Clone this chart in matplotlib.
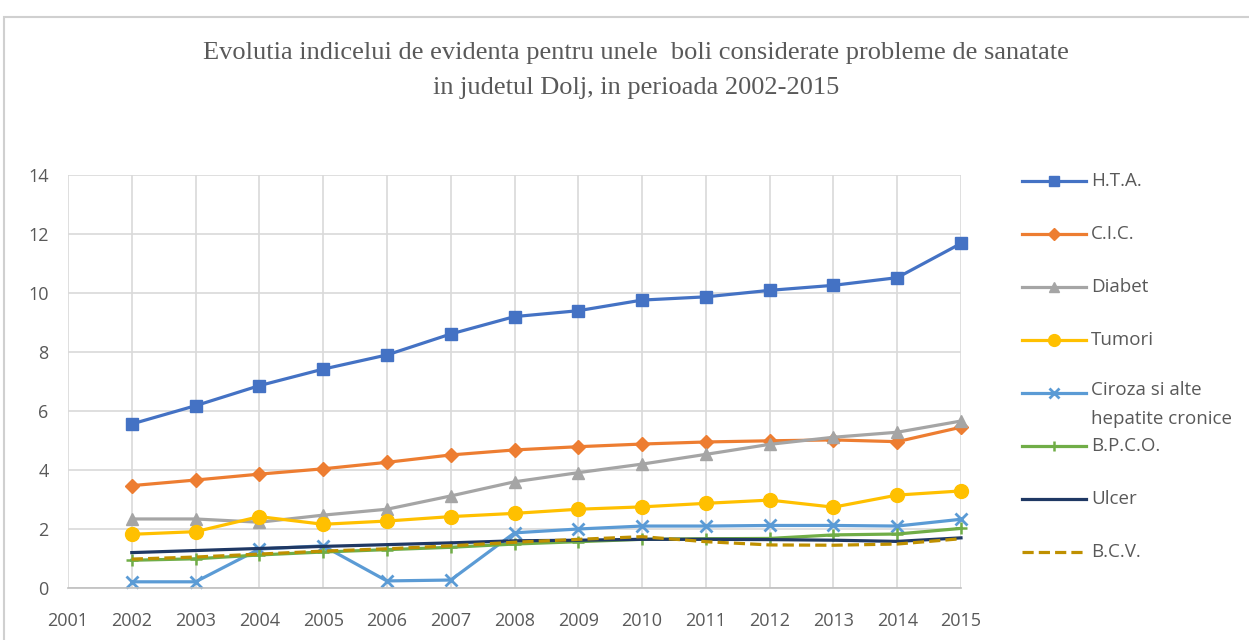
import matplotlib
matplotlib.use("Agg")
import matplotlib.pyplot as plt
from matplotlib.lines import Line2D
from matplotlib.patches import Rectangle

years = list(range(2002, 2016))
hta = [5.56, 6.18, 6.86, 7.42, 7.90, 8.61, 9.20, 9.40, 9.76, 9.87, 10.09, 10.26, 10.52, 11.68]
cic = [3.47, 3.66, 3.86, 4.04, 4.26, 4.51, 4.68, 4.79, 4.88, 4.95, 4.99, 5.02, 4.96, 5.45]
diabet = [2.34, 2.34, 2.23, 2.47, 2.67, 3.12, 3.60, 3.91, 4.20, 4.53, 4.87, 5.11, 5.28, 5.66]
tumori = [1.82, 1.91, 2.42, 2.16, 2.27, 2.42, 2.53, 2.67, 2.75, 2.87, 2.98, 2.74, 3.15, 3.29]
ciroza = [0.21, 0.21, 1.32, 1.43, 0.24, 0.27, 1.87, 2.00, 2.10, 2.10, 2.12, 2.12, 2.10, 2.33]
bpco = [0.94, 0.99, 1.12, 1.22, 1.30, 1.38, 1.49, 1.57, 1.65, 1.67, 1.68, 1.80, 1.83, 2.02]
ulcer = [1.20, 1.27, 1.34, 1.41, 1.47, 1.53, 1.60, 1.62, 1.65, 1.65, 1.64, 1.62, 1.58, 1.70]
bcv = [0.98, 1.05, 1.15, 1.25, 1.33, 1.43, 1.55, 1.65, 1.74, 1.57, 1.46, 1.45, 1.49, 1.67]

labels = ["H.T.A.", "C.I.C.", "Diabet", "Tumori", "Ciroza si alte\nhepatite cronice",
          "B.P.C.O.", "Ulcer", "B.C.V."]
series = [hta, cic, diabet, tumori, ciroza, bpco, ulcer, bcv]
x_ticks = list(range(2001, 2016))
y_ticks = list(range(0, 15, 2))

styles = [
    dict(color="#4472C4", marker="s", ms=9, ls="-"),
    dict(color="#ED7D31", marker="D", ms=7, ls="-"),
    dict(color="#A5A5A5", marker="^", ms=9, ls="-"),
    dict(color="#FFC000", marker="o", ms=10, ls="-"),
    dict(color="#5B9BD5", marker="x", ms=9, ls="-", mew=2),
    dict(color="#70AD47", marker="+", ms=9, ls="-", mew=1.8),
    dict(color="#1F3864", marker=None, ms=0, ls="-"),
    dict(color="#BF9000", marker=None, ms=0, ls=(0, (3.5, 1.6))),
]

W, H = 1249, 640
fig = plt.figure(figsize=(W / 100, H / 100), dpi=100)
fig.patch.set_facecolor("white")
fig.add_artist(Rectangle((4 / W, -0.1), 1.2, (H - 17) / H + 0.1, transform=fig.transFigure,
                         facecolor="white", edgecolor="#d0d0d0", lw=1.5, zorder=-10))

ax = fig.add_axes([68 / W, 1 - 588 / H, (961 - 68) / W, (588 - 175) / H])
ax.set_facecolor("none")
for s, st in zip(series, styles):
    kw = dict(color=st["color"], lw=2.3, linestyle=st["ls"])
    if st["marker"]:
        kw.update(marker=st["marker"], markersize=st["ms"], markeredgewidth=st.get("mew", 1),
                  markerfacecolor=st["color"], markeredgecolor=st["color"])
    ax.plot(years, s, clip_on=False, **kw)

ax.set_xlim(2001, 2015)
ax.set_ylim(0, 14)
ax.set_xticks(x_ticks)
ax.set_yticks(y_ticks)
ax.grid(True, color="#d9d9d9", lw=1.2)
ax.set_axisbelow(True)
for sp in ["top", "right", "left"]:
    ax.spines[sp].set_visible(False)
ax.spines["bottom"].set_color("#bfbfbf")
ax.spines["bottom"].set_linewidth(1.2)
ax.tick_params(length=0, labelsize=13, labelcolor="#595959")
ax.tick_params(axis="x", pad=17)
ax.tick_params(axis="y", pad=14)
for t in ax.get_xticklabels() + ax.get_yticklabels():
    t.set_fontfamily("Open Sans")

fig.text(636 / W, 1 - 53 / H,
         "Evolutia indicelui de evidenta pentru unele  boli considerate probleme de sanatate",
         ha="center", va="center", fontsize=19, family="Liberation Serif", color="#595959")
fig.text(636 / W, 1 - 88 / H, "in judetul Dolj, in perioada 2002-2015",
         ha="center", va="center", fontsize=19, family="Liberation Serif", color="#595959")

# legend
for i, (lab, st) in enumerate(zip(labels, styles)):
    yp = 181 + 53 * i
    yf = 1 - yp / H
    ln = Line2D([1022 / W, 1086 / W], [yf, yf], transform=fig.transFigure,
                color=st["color"], lw=2.3, linestyle=st["ls"])
    fig.add_artist(ln)
    if st["marker"]:
        mk = Line2D([1054 / W], [yf], transform=fig.transFigure, marker=st["marker"],
                    markersize=st["ms"] * 0.85, markeredgewidth=st.get("mew", 1),
                    color=st["color"], markerfacecolor=st["color"], markeredgecolor=st["color"])
        fig.add_artist(mk)
    if "\n" in lab:
        fig.text(1091 / W, yf + 12 / H, lab, ha="left", va="top", fontsize=13.5,
                 family="Open Sans", color="#595959", linespacing=1.75)
    else:
        fig.text(1091 / W, yf, lab, ha="left", va="center", fontsize=13.5,
                 family="Open Sans", color="#595959")

fig.savefig("out.png", dpi=100, facecolor="white")
